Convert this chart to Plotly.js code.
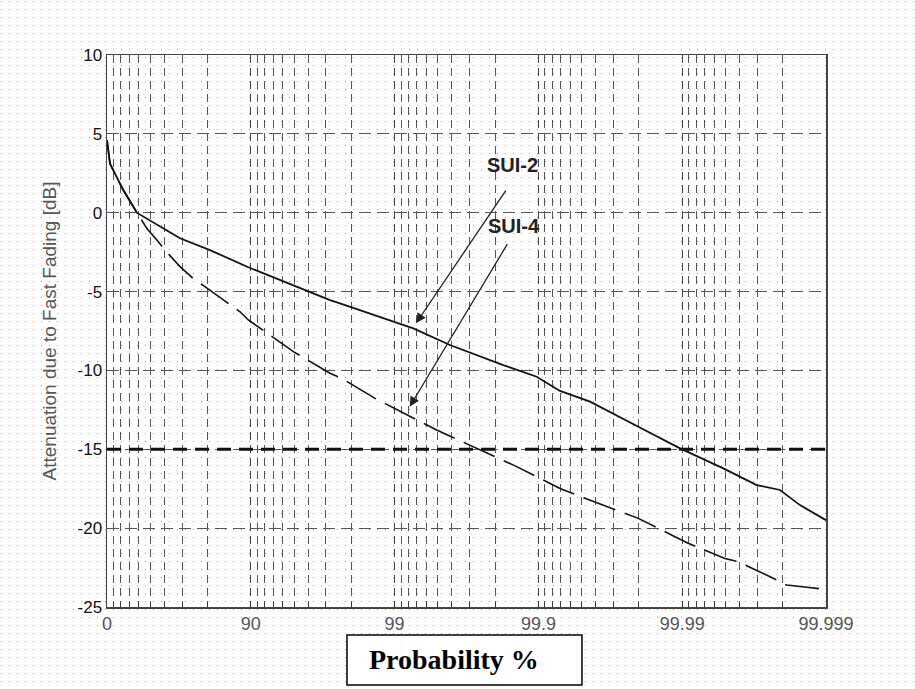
<!DOCTYPE html>
<html>
<head>
<meta charset="utf-8">
<script src="https://cdn.plot.ly/plotly-3.0.1.min.js"></script>
<style>
  html, body { margin: 0; padding: 0; width: 915px; height: 689px; overflow: hidden;
    background-color: #ffffff;
    background-image: url("data:image/svg+xml;utf8,<svg xmlns='http://www.w3.org/2000/svg' width='8' height='8'><rect x='1' y='1' width='1' height='1' fill='%23a0a0a0'/></svg>");
    background-size: 8px 8px; }
  #chart { position: absolute; left: 0; top: 0; width: 915px; height: 689px; }
</style>
</head>
<body>
<div id="chart"></div>
<script>
// x values are in "number of nines": x = -log10(1 - P/100)
const tickPositions = [0, 1, 2, 3, 4, 5];
const tickLabels = ['0', '90', '99', '99.9', '99.99', '99.999'];

// SUI-2 channel (solid)
const sui2X = [0, 0.021, 0.113, 0.207, 0.508, 0.716, 0.983, 1.284, 1.551, 1.62, 2.13, 2.385, 2.594, 2.756, 2.988, 3.15, 3.359, 3.498, 3.695, 3.985, 4.286, 4.518, 4.68, 4.819, 5.0];
const sui2Y = [4.6, 3.1, 1.44, 0.0, -1.62, -2.37, -3.46, -4.58, -5.54, -5.75, -7.33, -8.39, -9.13, -9.66, -10.4, -11.3, -11.98, -12.62, -13.57, -14.94, -16.21, -17.27, -17.58, -18.54, -19.49];

// SUI-4 channel (dashed)
const sui4X = [0, 0.021, 0.113, 0.207, 0.276, 0.357, 0.403, 0.508, 0.612, 0.681, 0.925, 0.983, 1.215, 1.296, 1.551, 1.632, 1.864, 1.956, 2.2, 2.293, 2.849, 3.15, 3.324, 3.602, 3.695, 3.95, 4.042, 4.297, 4.39, 4.633, 4.727, 4.866, 5.0];
const sui4Y = [4.6, 3.1, 1.44, 0.0, -0.99, -1.84, -2.37, -3.42, -4.27, -4.69, -6.28, -6.8, -8.28, -8.81, -10.18, -10.5, -11.77, -12.19, -13.35, -13.78, -16.1, -17.48, -18.11, -19.06, -19.38, -20.54, -20.96, -21.92, -22.13, -23.18, -23.61, -23.75, -23.88];

const yTicks = [10, 5, 0, -5, -10, -15, -20, -25];
const yLabels = ['10', '5', '0', '-5', '-10', '-15', '-20', '-25'];
const threshold = -15;

// label / arrow placement (data coords)
const sui2Label = {x: 2.82, y: 3.0};
const sui2Tip = {x: 2.15, y: -7.0};
const sui2Tail = {x: 2.78, y: 1.5};
const sui4Label = {x: 2.83, y: -0.85};
const sui4Tip = {x: 2.105, y: -12.3};
const sui4Tail = {x: 2.79, y: -1.9};

// minor vertical grid at P = 10..80 % within each decade of nines
const minorVals = [];
for (let k = 0; k < 5; k++) {
  for (let j = 1; j <= 8; j++) minorVals.push(k - Math.log10(1 - j / 10));
}

const traces = [
  {x: sui2X, y: sui2Y, type: 'scatter', mode: 'lines', name: 'SUI-2',
   line: {color: '#111', width: 1.8}, hoverinfo: 'skip'},
  {x: sui4X, y: sui4Y, type: 'scatter', mode: 'lines', name: 'SUI-4',
   line: {color: '#111', width: 1.6, dash: '34px,10px'}, hoverinfo: 'skip'},
  {x: [0, 5], y: [threshold, threshold], type: 'scatter', mode: 'lines', name: 'limit',
   line: {color: '#111', width: 3, dash: '14px,8px'}, hoverinfo: 'skip'}
];

const layout = {
  width: 915, height: 689,
  margin: {l: 107, r: 89, t: 55, b: 82, pad: 0},
  paper_bgcolor: 'rgba(0,0,0,0)',
  plot_bgcolor: 'rgba(0,0,0,0)',
  showlegend: false,
  font: {family: 'Liberation Sans, Arial, sans-serif', color: '#222'},
  xaxis: {
    range: [0, 5], tickvals: tickPositions, ticktext: tickLabels,
    showgrid: true, gridcolor: '#444', gridwidth: 1, griddash: '8px,5px',
    zeroline: false, showline: true, linecolor: '#444', linewidth: 1.5, mirror: true,
    ticks: 'inside', ticklen: 5, tickcolor: '#333',
    tickfont: {size: 18, color: '#555', family: 'Liberation Sans, Arial, sans-serif'},
    minor: {tickmode: 'array', tickvals: minorVals, showgrid: true, gridcolor: '#555',
            gridwidth: 1, griddash: '8px,5px', ticks: 'inside', ticklen: 4, tickcolor: '#333'},
    fixedrange: true
  },
  yaxis: {
    range: [-25, 10], tickvals: yTicks, ticktext: yLabels,
    showgrid: true, gridcolor: '#555', gridwidth: 1, griddash: '12px,6px',
    zeroline: false, showline: true, linecolor: '#444', linewidth: 1.5, mirror: true,
    ticks: '', tickfont: {size: 17, color: '#111'},
    title: {text: 'Attenuation due to Fast Fading [dB]', font: {size: 19, color: '#555'}, standoff: 16},
    fixedrange: true
  },
  shapes: [
    {type: 'rect', xref: 'paper', yref: 'paper', x0: 0.3338, x1: 0.6606, y0: -0.0507, y1: -0.1413,
     line: {color: '#000', width: 1.5}, fillcolor: '#fff', layer: 'above'}
  ],
  annotations: [
    {xref: 'paper', yref: 'paper', x: 0.4826, y: -0.096, xanchor: 'center', yanchor: 'middle',
     text: '<b>Probability %</b>', showarrow: false,
     font: {family: 'Liberation Serif, Times New Roman, serif', size: 28, color: '#000'}},
    {x: sui2Label.x, y: sui2Label.y, text: '<b>SUI-2</b>', showarrow: false,
     font: {size: 20, color: '#222'}},
    {x: sui4Label.x, y: sui4Label.y, text: '<b>SUI-4</b>', showarrow: false,
     font: {size: 20, color: '#222'}},
    {x: sui2Tip.x, y: sui2Tip.y, ax: sui2Tail.x, ay: sui2Tail.y, axref: 'x', ayref: 'y',
     text: '', showarrow: true, arrowhead: 2, arrowsize: 1.5, arrowwidth: 1.3, arrowcolor: '#222'},
    {x: sui4Tip.x, y: sui4Tip.y, ax: sui4Tail.x, ay: sui4Tail.y, axref: 'x', ayref: 'y',
     text: '', showarrow: true, arrowhead: 2, arrowsize: 1.5, arrowwidth: 1.3, arrowcolor: '#222'}
  ]
};

Plotly.newPlot('chart', traces, layout, {displayModeBar: false, staticPlot: true});
</script>
</body>
</html>
